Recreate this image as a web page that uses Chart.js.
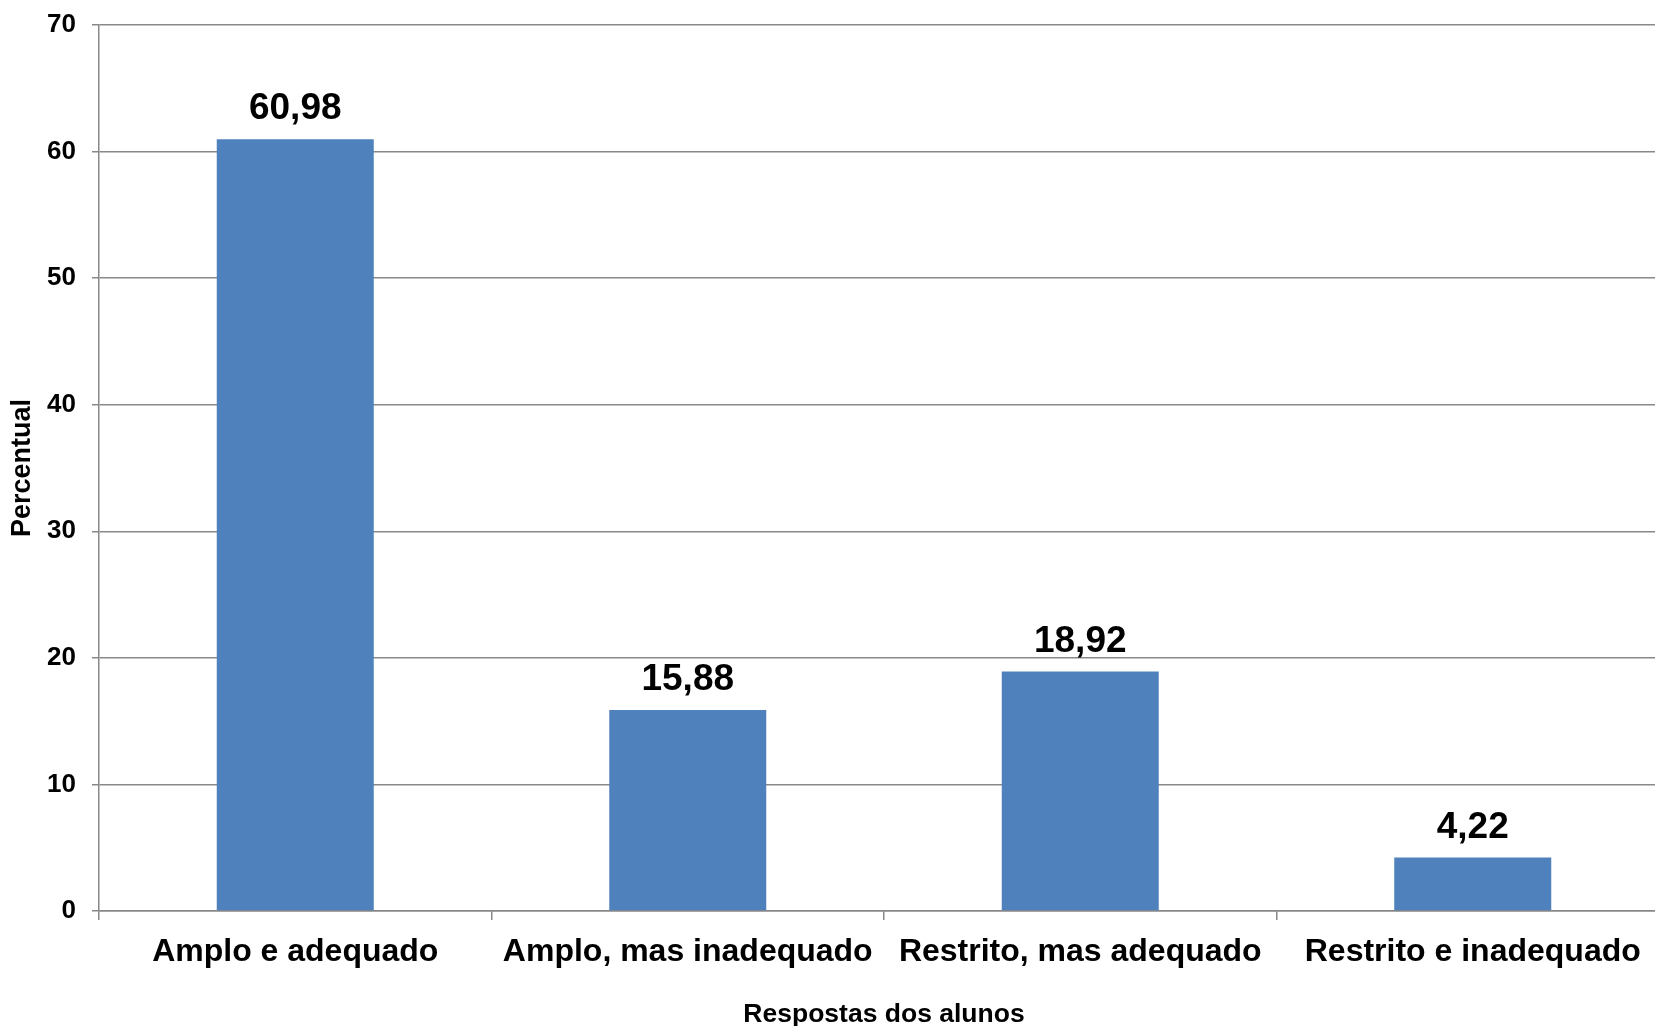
<!DOCTYPE html>
<html>
<head>
<meta charset="utf-8">
<title>Respostas dos alunos</title>
<script src="https://cdn.jsdelivr.net/npm/chart.js@4"></script>
<style>
  html, body { margin: 0; padding: 0; background: #fff; overflow: hidden; }
  #wrap { position: relative; width: 1680px; height: 1026px; }
</style>
</head>
<body>
<div id="wrap"><canvas id="chart"></canvas></div>
<script>
// ---------- data ----------
const categories = ['Amplo e adequado', 'Amplo, mas inadequado', 'Restrito, mas adequado', 'Restrito e inadequado'];
const percentValues = [60.98, 15.88, 18.92, 4.22];
const yTicks = [0, 10, 20, 30, 40, 50, 60, 70];

const FONT = '"Liberation Sans", Arial, sans-serif';
const GRID = '#888888';

// value labels above each bar, comma as decimal separator
const barLabels = {
  id: 'barLabels',
  afterDatasetsDraw(chart) {
    const ctx = chart.ctx;
    const meta = chart.getDatasetMeta(0);
    ctx.save();
    ctx.font = 'bold 37px ' + FONT;
    ctx.fillStyle = '#000';
    ctx.textAlign = 'center';
    ctx.textBaseline = 'alphabetic';
    meta.data.forEach((bar, i) => {
      const txt = percentValues[i].toFixed(2).replace('.', ',');
      ctx.fillText(txt, bar.x, bar.y - 20);
    });
    ctx.restore();
  }
};

const chart = new Chart(document.getElementById('chart'), {
  type: 'bar',
  data: {
    labels: categories,
    datasets: [{
      data: percentValues,
      backgroundColor: '#4F81BD',
      borderWidth: 0,
      barPercentage: 0.4,
      categoryPercentage: 1
    }]
  },
  options: {
    responsive: true,
    maintainAspectRatio: false,
    animation: false,
    layout: { padding: { top: 25, right: 11, bottom: 0, left: 0 } },
    plugins: { legend: { display: false }, tooltip: { enabled: false } },
    scales: {
      x: {
        grid: { display: true, drawOnChartArea: false, drawTicks: true, tickLength: 9, color: GRID, lineWidth: 1.5, offset: true },
        border: { display: true, color: GRID, width: 1.5 },
        ticks: { color: '#000', font: { family: FONT, size: 32, weight: 'bold' }, padding: 13, maxRotation: 0, autoSkip: false },
        title: { display: true, text: 'Respostas dos alunos', color: '#000', font: { family: FONT, size: 26.5, weight: 'bold', lineHeight: 1 }, padding: { top: 0, bottom: -2 } },
        afterFit(scale) { scale.height = 115; scale.paddingLeft = 0; scale.paddingRight = 0; }
      },
      y: {
        min: 0,
        max: 70,
        afterBuildTicks(scale) { scale.ticks = yTicks.map(v => ({ value: v })); },
        grid: { color: GRID, lineWidth: 1.5, drawTicks: true, tickLength: 7 },
        border: { display: true, color: GRID, width: 1.5 },
        ticks: { color: '#000', font: { family: FONT, size: 26, weight: 'bold' }, padding: 16 },
        title: { display: true, text: 'Percentual', color: '#000', font: { family: FONT, size: 27, weight: 'bold', lineHeight: 1 }, padding: { top: 9, bottom: 0 } },
        afterFit(scale) { scale.width = 99; scale.paddingTop = 0; scale.paddingBottom = 0; }
      }
    }
  },
  plugins: [barLabels]
});
</script>
</body>
</html>
